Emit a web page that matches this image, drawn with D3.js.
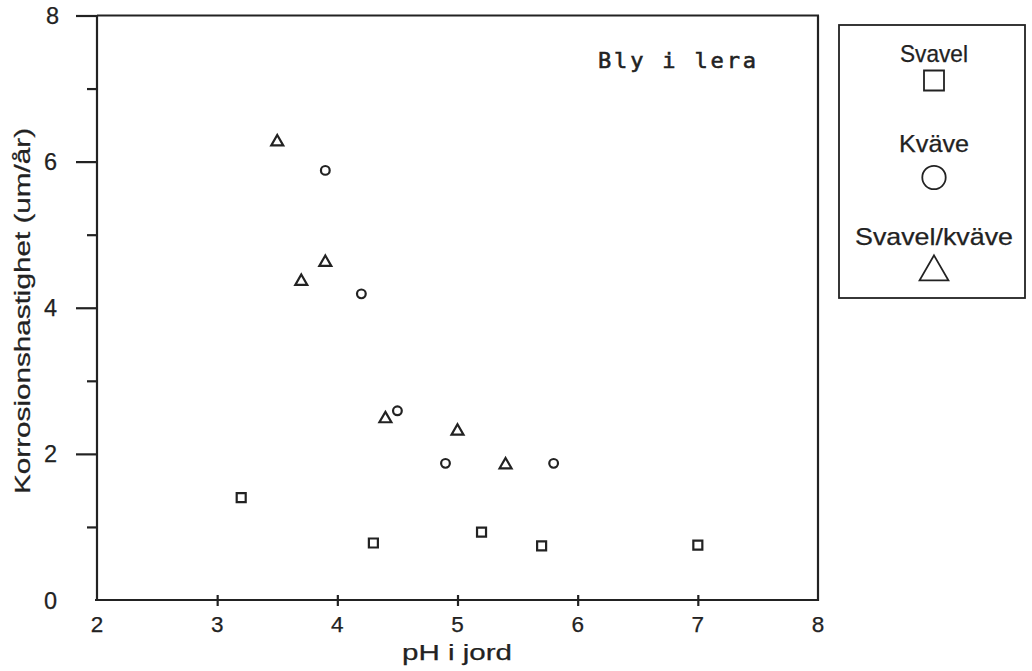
<!DOCTYPE html>
<html>
<head>
<meta charset="utf-8">
<script src="https://cdn.jsdelivr.net/npm/d3@7"></script>
<style>
  html, body { margin: 0; padding: 0; background: #fff; }
  svg { display: block; }
  text { fill: #222; stroke: #222; stroke-width: 0.25px; }
  text.mono { stroke-width: 0.6px; }
</style>
</head>
<body>
<svg id="chart" width="1032" height="671"></svg>
<script>
// Corrosion rate of lead in clay vs soil pH, three exposure groups
const svavelPH   = [3.2, 4.3, 5.2, 5.7, 7.0];
const svavelRate = [1.40, 0.78, 0.93, 0.74, 0.75];

const kvavePH    = [3.9, 4.2, 4.5, 4.9, 5.8];
const kvaveRate  = [5.88, 4.19, 2.59, 1.87, 1.87];

const blandPH    = [3.5, 3.7, 3.9, 4.4, 5.0, 5.4];
const blandRate  = [6.27, 4.36, 4.62, 2.48, 2.31, 1.85];

const xTicks = [2, 3, 4, 5, 6, 7, 8];
const yMajor = [0, 2, 4, 6, 8];
const yMinor = [1, 3, 5, 7];

const seriesNames = ["Svavel", "Kväve", "Svavel/kväve"];

const ink = "#222";
const font = "'Liberation Sans', Arial, sans-serif";

const svg = d3.select("#chart");

const x = d3.scaleLinear().domain([2, 8]).range([97, 818]);
const y = d3.scaleLinear().domain([0, 8]).range([600, 15.5]);

// Frame: top and right borders
svg.append("line").attr("x1", x(8)).attr("x2", x(8)).attr("y1", y(8)).attr("y2", y(0) + 1)
  .attr("stroke", ink).attr("stroke-width", 2.2);
svg.append("line").attr("x1", x(2)).attr("x2", x(8) + 1).attr("y1", y(8)).attr("y2", y(8))
  .attr("stroke", ink).attr("stroke-width", 2.2);

// Left axis: long ticks at even values, short ticks at odd values
const gy = svg.append("g").attr("transform", `translate(${x(2)},0)`);
gy.call(d3.axisLeft(y).tickValues(yMajor.filter(v => v > 0)).tickSize(21).tickFormat(""));
gy.select(".domain").attr("d", `M0,${y(8)}V${y(0)}`);
const gyMinor = svg.append("g").attr("transform", `translate(${x(2)},0)`);
gyMinor.call(d3.axisLeft(y).tickValues(yMinor).tickSize(10).tickFormat(""));
gyMinor.select(".domain").remove();
svg.selectAll(".tick line, .domain").attr("stroke", ink).attr("stroke-width", 2.2);

// Y tick labels
svg.append("g").selectAll("text").data(yMajor).join("text")
  .attr("x", d => d === 8 ? 59 : 57)
  .attr("y", d => y(d) + 8.5)
  .attr("text-anchor", "end")
  .attr("font-family", font).attr("font-size", 23.5)
  .text(d => d);

// Bottom axis: ticks crossing the baseline
const gx = svg.append("g").attr("transform", `translate(0,${y(0)})`);
gx.call(d3.axisBottom(x).tickValues(xTicks.filter(v => v > 2 && v < 8)).tickSize(6).tickFormat(""));
gx.select(".domain").attr("d", `M${x(2) - 2},0H${x(8)}`).attr("stroke", ink).attr("stroke-width", 2.2);
gx.selectAll(".tick line").attr("y1", -5).attr("y2", 6).attr("stroke", ink).attr("stroke-width", 2.2);

svg.append("g").selectAll("text").data(xTicks).join("text")
  .attr("x", d => x(d))
  .attr("y", 632)
  .attr("text-anchor", "middle")
  .attr("font-family", font).attr("font-size", 22.5)
  .text(d => d);

// Axis titles
svg.append("text")
  .attr("x", 457).attr("y", 660)
  .attr("text-anchor", "middle")
  .attr("font-family", font).attr("font-size", 22)
  .attr("textLength", 110).attr("lengthAdjust", "spacingAndGlyphs")
  .text("pH i jord");

svg.append("text")
  .attr("transform", "translate(30,311) rotate(-90)")
  .attr("text-anchor", "middle")
  .attr("font-family", font).attr("font-size", 22)
  .attr("textLength", 366).attr("lengthAdjust", "spacingAndGlyphs")
  .text("Korrosionshastighet (um/år)");

// Panel label
svg.append("text")
  .attr("class", "mono")
  .attr("x", 598).attr("y", 68)
  .attr("font-family", "'DejaVu Sans Mono', 'Liberation Mono', monospace")
  .attr("font-size", 22)
  .attr("textLength", 158).attr("lengthAdjust", "spacing")
  .text("Bly i lera");

// Markers
const markStyle = sel => sel.attr("fill", "none").attr("stroke", ink).attr("stroke-width", 2.2);

const sq = d3.symbol().type(d3.symbolSquare).size(81);
const ci = d3.symbol().type(d3.symbolCircle).size(60);
const tr = d3.symbol().type(d3.symbolTriangle).size(62);

svg.append("g").selectAll("path").data(d3.zip(svavelPH, svavelRate)).join("path")
  .attr("transform", d => `translate(${x(d[0])},${y(d[1])})`)
  .attr("d", sq()).call(markStyle);

svg.append("g").selectAll("path").data(d3.zip(kvavePH, kvaveRate)).join("path")
  .attr("transform", d => `translate(${x(d[0])},${y(d[1])})`)
  .attr("d", ci()).call(markStyle);

svg.append("g").selectAll("path").data(d3.zip(blandPH, blandRate)).join("path")
  .attr("transform", d => `translate(${x(d[0])},${y(d[1])})`)
  .attr("d", tr()).call(markStyle);

// Legend
const leg = svg.append("g");
leg.append("rect").attr("x", 839).attr("y", 25).attr("width", 186).attr("height", 273)
  .attr("fill", "none").attr("stroke", ink).attr("stroke-width", 1.8);

const legText = [62, 152, 245];
const legWidth = [68, 70, 158];
leg.selectAll("text").data(seriesNames).join("text")
  .attr("x", 934).attr("y", (d, i) => legText[i])
  .attr("text-anchor", "middle")
  .attr("font-family", font).attr("font-size", 24)
  .attr("textLength", (d, i) => legWidth[i]).attr("lengthAdjust", "spacingAndGlyphs")
  .text(d => d);

const legSymbols = [
  d3.symbol().type(d3.symbolSquare).size(400),
  d3.symbol().type(d3.symbolCircle).size(430),
  d3.symbol().type(d3.symbolTriangle).size(360)
];
const legY = [80.5, 177.5, 272];
leg.selectAll("path").data(legSymbols).join("path")
  .attr("transform", (d, i) => `translate(934,${legY[i]})`)
  .attr("d", d => d())
  .attr("fill", "none").attr("stroke", ink).attr("stroke-width", 1.8);
</script>
</body>
</html>
